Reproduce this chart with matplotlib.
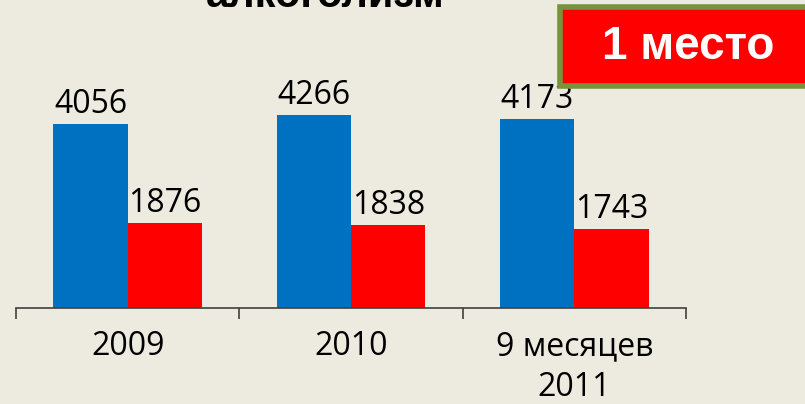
import matplotlib
matplotlib.use("Agg")
import matplotlib.pyplot as plt
import numpy as np
from matplotlib.patches import Rectangle

categories = ["2009", "2010", "9 месяцев\n2011"]
series_blue = [4056, 4266, 4173]
series_red = [1876, 1838, 1743]

BG = "#EDEAE0"
BLUE = "#0070C0"
RED = "#FF0000"

W, H = 805, 404
fig = plt.figure(figsize=(W / 100, H / 100), dpi=100)
fig.patch.set_facecolor(BG)

# axes box in pixel coords: x 16..686, baseline y=308, top y=36
ax = fig.add_axes([16 / W, (H - 308) / H, (686 - 16) / W, (308 - 36) / H])
ax.set_facecolor(BG)

x = np.arange(len(categories))
width = 1 / 3
ax.bar(x - width / 2, series_blue, width=width, color=BLUE)
ax.bar(x + width / 2, series_red, width=width, color=RED)

label_font = dict(family="Open Sans", fontsize=23, color="black",
                  ha="center", va="bottom")
for xi, v in zip(x - width / 2, series_blue):
    ax.annotate(str(v), (xi, v), xytext=(0, 2), textcoords="offset points",
                **label_font)
for xi, v in zip(x + width / 2, series_red):
    ax.annotate(str(v), (xi, v), xytext=(0, 2), textcoords="offset points",
                **label_font)

ax.set_xlim(-0.5, len(categories) - 0.5)
ax.set_ylim(0, 6000)
for side in ("left", "right", "top"):
    ax.spines[side].set_visible(False)
ax.spines["bottom"].set_color("#404040")
ax.spines["bottom"].set_linewidth(1.2)
ax.set_yticks([])

ax.set_xticks(np.arange(-0.5, len(categories)), labels=[""] * (len(categories) + 1))
ax.tick_params(axis="x", which="major", length=8, width=1.2, color="#404040",
               direction="out")
ax.set_xticks(x, labels=categories, minor=True)
ax.tick_params(axis="x", which="minor", length=0, pad=16)
for lbl in ax.get_xticklabels(minor=True):
    lbl.set_fontfamily("Open Sans")
    lbl.set_fontsize(23)
    lbl.set_linespacing(1.32)
    lbl.set_verticalalignment("top")

# title, mostly cut off at the top (as in the source slide)
fig.text(325 / W, 1 - 7 / H, "алкоголизм", family="Liberation Sans",
         fontweight="bold", fontsize=30, ha="center", va="baseline")

# "1 место" badge
badge = Rectangle((560 / W, 1 - 86 / H), 260 / W, 79 / H, transform=fig.transFigure,
                  facecolor=RED, edgecolor="#77933C", linewidth=4, clip_on=False)
fig.patches.append(badge)
fig.text(688 / W, 1 - 47 / H, "1 место", family="Liberation Sans",
         fontweight="bold", fontsize=33, color="white", ha="center", va="center")

fig.savefig("out.png", dpi=100, facecolor=BG)
